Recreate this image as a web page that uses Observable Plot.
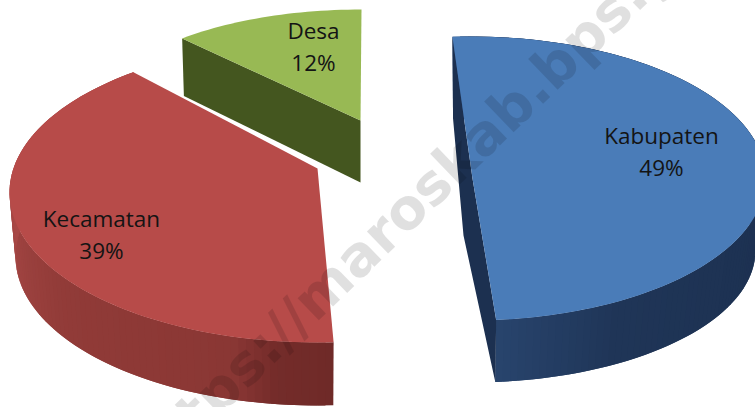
<!DOCTYPE html>
<html>
<head>
<meta charset="utf-8">
<style>
  html, body { margin: 0; padding: 0; background: #fff; }
  svg { display: block; }
</style>
<script src="https://cdn.jsdelivr.net/npm/d3@7"></script>
<script src="https://cdn.jsdelivr.net/npm/@observablehq/plot@0.6"></script>
</head>
<body>
<div id="chart"></div>
<script>
// Shares by level of government
const names = ["Kabupaten", "Kecamatan", "Desa"];
const shares = [49, 39, 12];

// Palette: lid colour, side face colour, and wall tones along the rim (null: no curved wall in view)
const lidColors = ["#4a7cb8", "#b74b49", "#98b954"];
const faceColors = ["#1c3050", "#6f2a28", "#44561f"];
const wallTones = [
  [[175, "#28446d"], [150, "#1f3557"], [90, "#1c3050"], [0, "#1c3050"]],
  [[177, "#6f2a28"], [188, "#742c2a"], [196, "#8a3734"], [235, "#913b38"], [275, "#a84846"], [330, "#a84846"]],
  null
];

// Exploded 3D layout of each slice: upper and lower rim ellipses and their apex points
const slices3d = [
  { turn: -0.45, stretch: 1.012,
    top: { cx: 470, cy: 178, a: 295, b: 142, ax: 472, ay: 178 },
    low: { cx: 470, cy: 250, a: 285, b: 132, ax: 463, ay: 235 } },
  { turn: 5.55, stretch: 1.042,
    top: { cx: 317, cy: 192, a: 308, b: 150, ax: 317, ay: 168 },
    low: { cx: 317, cy: 256, a: 302, b: 149, ax: 317, ay: 232 } },
  { turn: 2, stretch: 1,
    top: { cx: 361, cy: 116, a: 262, b: 107, ax: 360, ay: 120 },
    low: { cx: 360, cy: 172, a: 258, b: 105, ax: 360, ay: 182 } }
];

// Label anchors on the lids
const labelX = [661, 101, 313];
const labelY = [149, 232, 44];

const watermark = "https://maroskab.bps.go.id";

const rad = Math.PI / 180;
const pie = d3.pie().sort(null).startAngle(-2 * rad).endAngle(358 * rad)(shares);

const arcs = pie.map((p, i) => {
  const g = slices3d[i];
  const mid = (p.startAngle + p.endAngle) / 2 / rad;
  const warp = (deg) => mid + g.turn + (deg - mid) * g.stretch;
  return { from: warp(p.startAngle / rad), to: warp(p.endAngle / rad) };
});

const rim = (e, deg) => ({
  x: e.cx + e.a * Math.sin(deg * rad),
  y: e.cy - e.b * Math.cos(deg * rad)
});

const toneAt = (stops, deg) => {
  const d = ((deg % 360) + 360) % 360;
  const sorted = [...stops].sort((p, q) => p[0] - q[0]);
  const scale = d3.scaleLinear().domain(sorted.map((s) => s[0])).range(sorted.map((s) => s[1]))
    .interpolate(d3.interpolateRgb).clamp(true);
  return scale(d);
};

const lidRows = [], wallRows = [], faceRows = [];
arcs.forEach(({ from, to }, i) => {
  const g = slices3d[i];
  const steps = Math.ceil((to - from) / 1.5);
  const stepSize = (to - from) / steps;
  const angle = (k) => from + stepSize * k;

  // Lid: apex, then the rim arc
  lidRows.push({ id: i, x: g.top.ax, y: g.top.ay, fill: lidColors[i] });
  for (let k = 0; k <= steps; ++k) lidRows.push({ id: i, ...rim(g.top, angle(k)), fill: lidColors[i] });

  // Curved wall, drawn as overlapping narrow quads so its tone can change along the rim
  if (wallTones[i]) {
    for (let k = 0; k < steps; ++k) {
      const a0 = angle(k), a1 = Math.min(to, angle(k + 1) + stepSize);
      const tone = toneAt(wallTones[i], angle(k) + stepSize / 2);
      const seg = `${i}-${k}`;
      [rim(g.top, a0), rim(g.top, a1), rim(g.low, a1), rim(g.low, a0)]
        .forEach((pt) => wallRows.push({ id: seg, ...pt, fill: tone }));
    }
  }

  // Cut faces that turn toward the viewer
  const cut = [];
  if (i === 0) {
    cut.push(rim(g.top, from), rim(g.low, from), { x: g.low.ax, y: g.low.ay },
      rim(g.low, to), rim(g.top, to), { x: g.top.ax, y: g.top.ay });
  } else if (i === 2) {
    cut.push(rim(g.top, from), rim(g.low, from), { x: g.low.ax, y: g.low.ay }, { x: g.top.ax, y: g.top.ay });
  }
  cut.forEach((pt) => faceRows.push({ id: i, ...pt, fill: faceColors[i] }));
});

const labels = names.map((name, i) => ({
  text: `${name}\n${shares[i]}%`,
  x: labelX[i],
  y: labelY[i]
}));

const chart = Plot.plot({
  width: 755,
  height: 407,
  margin: 0,
  x: { domain: [0, 755], axis: null },
  y: { domain: [407, 0], axis: null },
  color: { type: "identity" },
  style: { background: "#fff" },
  marks: [
    Plot.line(wallRows, { x: "x", y: "y", z: "id", fill: "fill", stroke: "none" }),
    Plot.line(faceRows, { x: "x", y: "y", z: "id", fill: "fill", stroke: "none" }),
    Plot.line(lidRows, { x: "x", y: "y", z: "id", fill: "fill", stroke: "none" }),
    Plot.text(labels, {
      x: "x", y: "y", text: "text",
      fontFamily: "'Open Sans', sans-serif", fontSize: 22.5, lineHeight: 1.42,
      fill: "#141414"
    }),
    Plot.text([watermark], {
      x: [137], y: [470], text: (d) => d, rotate: -44, textAnchor: "start",
      fontFamily: "'DejaVu Sans', sans-serif", fontWeight: "bold", fontSize: 56,
      fill: "#000", fillOpacity: 0.12
    })
  ]
});
document.getElementById("chart").append(chart);
</script>
</body>
</html>
